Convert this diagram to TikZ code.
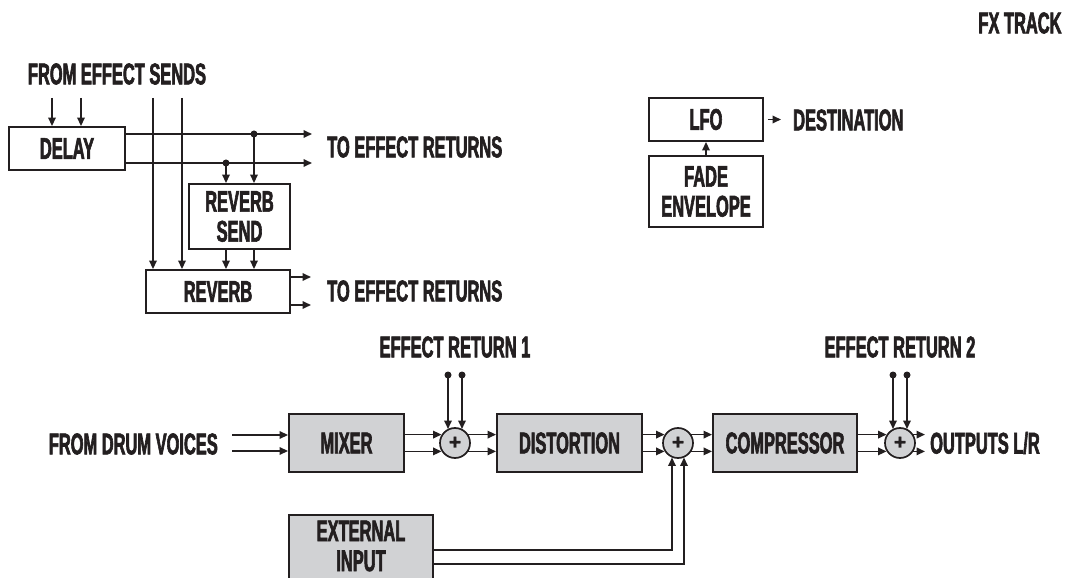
\documentclass[tikz,border=0pt]{standalone}
\usepackage{fontspec}
\newfontfamily\lblfont{Liberation Sans Bold}[FakeStretch=0.55,FakeBold=2]
\newfontfamily\plusfont{Liberation Sans Bold}[FakeBold=1.5]
\usetikzlibrary{arrows.meta,calc}
\definecolor{ink}{HTML}{231F20}
\definecolor{boxgray}{HTML}{D1D2D4}
\begin{document}
\begin{tikzpicture}[x=1bp,y=-1bp,
  every node/.style={font=\lblfont\fontsize{30}{30}\selectfont, text=ink, inner sep=0pt},
  box/.style={draw=ink, line width=1.9bp, align=center},
  gbox/.style={box, fill=boxgray},
  sumnode/.style={circle, draw=ink, fill=boxgray, line width=1.7bp, minimum size=30bp, inner sep=0pt, font=\plusfont\fontsize{21}{21}\selectfont},
  wire/.style={draw=ink, line width=1.7bp},
  arr/.style={wire, -{Triangle[length=8.5bp,width=7.5bp]}},
  dotnode/.style={circle, fill=ink, minimum size=7bp, inner sep=0pt},
]
\useasboundingbox (0,0) rectangle (1070,578);
\clip (0,0) rectangle (1070,578);

% titles
\node (fx) at (1020,23) {FX TRACK};
\node (fes) at (117,74) {FROM EFFECT SENDS};

% top-left block
\node[box, minimum width=116bp, minimum height=43bp] (delay) at (67,148.5) {DELAY};
\node[box, minimum width=101bp, minimum height=65bp] (rsend) at (239.5,216.5) {REVERB\\SEND};
\node[box, minimum width=144bp, minimum height=43bp] (reverb) at (218,291.5) {REVERB};

\coordinate (fes1) at (52,98);
\coordinate (fes2) at (81,98);
\coordinate (fes3) at (153,98);
\coordinate (fes4) at (182,98);
\draw[arr] (fes1) -- (fes1 |- delay.north);
\draw[arr] (fes2) -- (fes2 |- delay.north);
\draw[arr] (fes3) -- (fes3 |- reverb.north);
\draw[arr] (fes4) -- (fes4 |- reverb.north);

\coordinate (d1) at (312,134);
\coordinate (d2) at (312,163);
\draw[arr] (delay.east |- d1) -- (d1);
\draw[arr] (delay.east |- d2) -- (d2);
\node[dotnode] (j1) at (254,134) {};
\node[dotnode] (j2) at (226,163) {};
\draw[arr] (j1.center) -- (j1 |- rsend.north);
\draw[arr] (j2.center) -- (j2 |- rsend.north);
\draw[arr] (rsend.south -| j1) -- (reverb.north -| j1);
\draw[arr] (rsend.south -| j2) -- (reverb.north -| j2);

\coordinate (r1) at (311,277);
\coordinate (r2) at (311,305);
\draw[arr] (reverb.east |- r1) -- (r1);
\draw[arr] (reverb.east |- r2) -- (r2);

\node[anchor=west] (ter1) at (327,147) {TO EFFECT RETURNS};
\node[anchor=west] (ter2) at (327,291) {TO EFFECT RETURNS};

% LFO block
\node[box, minimum width=114bp, minimum height=43bp] (lfo) at (706,119.5) {LFO};
\node[box, minimum width=114bp, minimum height=71bp] (fade) at (706,191.5) {FADE\\ENVELOPE};
\draw[arr] (fade.north) -- (lfo.south);
\coordinate (dst) at (781,119.5);
\draw[arr, shorten <=4bp] (lfo.east) -- (dst);
\node[anchor=west] (dest) at (793,120) {DESTINATION};

% bottom chain
\node[gbox, minimum width=115bp, minimum height=58bp] (mixer) at (346.5,443) {MIXER};
\node[gbox, minimum width=145bp, minimum height=58bp] (dist) at (569.5,443) {DISTORTION};
\node[gbox, minimum width=144bp, minimum height=58bp] (comp) at (785,443) {COMPRESSOR};
\node[gbox, minimum width=144bp, minimum height=80bp] (ext) at (361,555) {};
\node[align=center] (extlbl) at (361,546) {EXTERNAL\\INPUT};

\node[sumnode] (s1) at (455,443) {+};
\node[sumnode] (s2) at (678,443) {+};
\node[sumnode] (s3) at (900,443) {+};

\node[anchor=east] (fdv) at (218,444) {FROM DRUM VOICES};
\coordinate (in1) at (232,435);
\coordinate (in2) at (232,451);
\draw[arr] (in1) -- (in1 -| mixer.west);
\draw[arr] (in2) -- (in2 -| mixer.west);

\draw[arr] (mixer.east |- s1.148) -- (s1.148);
\draw[arr] (mixer.east |- s1.212) -- (s1.212);
\draw[arr] (s1.32) -- (s1.32 -| dist.west);
\draw[arr] (s1.-32) -- (s1.-32 -| dist.west);
\draw[arr] (dist.east |- s2.148) -- (s2.148);
\draw[arr] (dist.east |- s2.212) -- (s2.212);
\draw[arr] (s2.32) -- (s2.32 -| comp.west);
\draw[arr] (s2.-32) -- (s2.-32 -| comp.west);
\draw[arr] (comp.east |- s3.148) -- (s3.148);
\draw[arr] (comp.east |- s3.212) -- (s3.212);
\coordinate (o1) at (925,443);
\draw[arr] (s3.32) -- (s3.32 -| o1);
\draw[arr] (s3.-32) -- (s3.-32 -| o1);
\node[anchor=west] (outs) at (930,443) {OUTPUTS L/R};

% effect returns
\node (er1) at (455,347) {EFFECT RETURN 1};
\node (er2) at (900,347) {EFFECT RETURN 2};
\node[dotnode] (e1a) at (448,375) {};
\node[dotnode] (e1b) at (462,375) {};
\node[dotnode] (e2a) at (893,375) {};
\node[dotnode] (e2b) at (907,375) {};
\draw[arr] (e1a.center) -- (e1a |- s1.118);
\draw[arr] (e1b.center) -- (e1b |- s1.62);
\draw[arr] (e2a.center) -- (e2a |- s3.118);
\draw[arr] (e2b.center) -- (e2b |- s3.62);

% external input
\coordinate (x1) at (672,550);
\coordinate (x2) at (684,564);
\draw[arr] (ext.east |- x1) -- (x1) -- (x1 |- s2.246);
\draw[arr] (ext.east |- x2) -- (x2) -- (x2 |- s2.294);
\end{tikzpicture}
\end{document}
